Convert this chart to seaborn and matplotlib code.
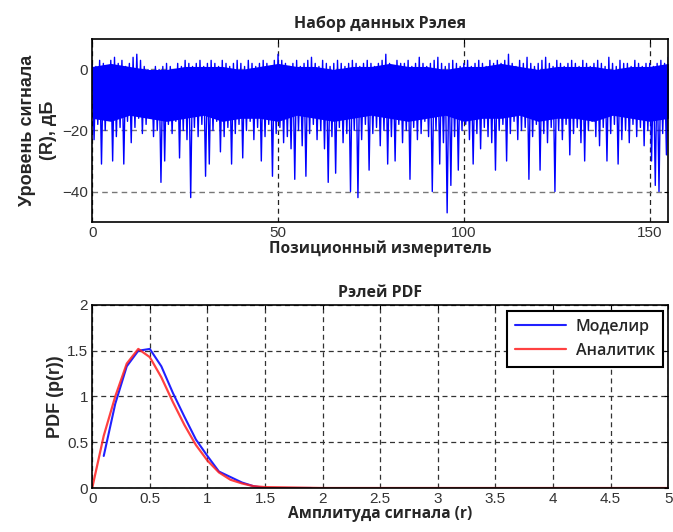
import numpy as np
import pandas as pd
import seaborn as sns
import matplotlib.pyplot as plt

# Rayleigh fading record: upper (peaks, at x = 0,1,...,155) and lower (troughs, at x = 0.5,...,154.5) values in dB
peaks = [2, 1, 3, 2, 1, 3, 4, 2, 3, 1,
         2, 4, 5, 3, 1, 0, -1, 1, 0, 1,
         2, 1, 0, 2, 1, 3, 2, 1, 2, 3,
         1, 2, 3, 2, 1, 3, 2, 1, 2, 3,
         2, 1, 3, 2, 1, 2, 3, 2, 1, 3,
         5, 3, 2, 1, 2, 3, 1, 2, 3, 4,
         2, 1, 3, 2, 1, 2, 3, 2, 1, 2,
         3, 2, 1, 2, 3, 2, 1, 2, 3, 5,
         2, 1, 3, 2, 2, 3, 1, 2, 4, 2,
         1, 2, 3, 4, 2, 1, 2, 3, 2, 1,
         2, 3, 1, 2, 3, 2, 1, 3, 2, 3,
         2, 3, 5, 2, 1, 3, 2, 4, 2, 1,
         2, 3, 4, 2, 1, 3, 2, 1, 2, 3,
         2, 1, 3, 2, 1, 2, 3, 2, 1, 4,
         2, 1, 3, 2, 2, 1, 3, 2, 1, 2,
         2, 1, 2, 3, 2, 4]
troughs = [-23, -18, -31, -20, -16, -30, -22, -19, -31, -17,
           -24, -19, -16, -21, -18, -15, -22, -20, -37, -30,
           -18, -21, -17, -29, -20, -23, -42, -19, -22, -18,
           -35, -31, -20, -17, -27, -22, -19, -31, -21, -18,
           -29, -20, -17, -23, -19, -30, -22, -18, -35, -21,
           -19, -24, -22, -26, -36, -20, -25, -35, -21, -18,
           -23, -20, -26, -37, -22, -34, -19, -24, -21, -40,
           -20, -42, -23, -18, -33, -21, -19, -25, -20, -31,
           -22, -30, -18, -24, -20, -36, -19, -23, -21, -17,
           -22, -40, -20, -31, -24, -47, -38, -22, -33, -20,
           -18, -23, -31, -21, -26, -19, -22, -24, -33, -20,
           -18, -30, -21, -17, -23, -20, -19, -36, -22, -18,
           -33, -21, -24, -19, -40, -20, -23, -18, -28, -21,
           -19, -24, -30, -20, -17, -22, -25, -19, -30, -21,
           -18, -31, -23, -20, -24, -18, -22, -19, -25, -20,
           -30, -38, -40, -21, -28]
# solid core of the record (every 5 units, x = 0,5,...,155), dB
core_top = [1, 2, 1, 0, 0, 1, 1, 1, 0, 1, 2, 1, 1, 0, 1, 1,
            2, 1, 1, 0, 1, 1, 2, 1, 0, 1, 1, 1, 0, 1, 1, 2]
core_bottom = [-16, -17, -15, -16, -17, -16, -15, -17, -16, -16, -17, -15, -16, -17, -16, -15,
               -16, -17, -16, -15, -17, -16, -16, -15, -17, -16, -16, -17, -15, -16, -17, -16]

# PDF curves
r_sim = [0.1, 0.2, 0.3, 0.4, 0.5, 0.6, 0.7, 0.8, 0.9, 1.0,
         1.1, 1.2, 1.3, 1.4, 1.5, 1.6, 1.7, 1.8, 1.9]
pdf_sim = [0.35, 0.92, 1.33, 1.50, 1.52, 1.33, 1.04, 0.78, 0.53, 0.35,
           0.18, 0.12, 0.06, 0.02, 0.0, 0.0, 0.0, 0.0, 0.0]
r_ana = [0.0, 0.1, 0.2, 0.3, 0.4, 0.5, 0.6, 0.7, 0.8, 0.9, 1.0,
         1.1, 1.2, 1.3, 1.4, 1.5, 2.0, 3.0, 4.0, 5.0]
pdf_ana = [0.0, 0.57, 1.0, 1.36, 1.52, 1.43, 1.21, 0.94, 0.69, 0.47, 0.30,
           0.17, 0.09, 0.05, 0.02, 0.01, 0.0, 0.0, 0.0, 0.0]

# interleave peaks and troughs into one record
pos, level = [], []
for i, p in enumerate(peaks):
    pos.append(i)
    level.append(p)
    if i < len(troughs):
        pos.append(i + 0.5)
        level.append(troughs[i])
ray = pd.DataFrame({'pos': pos, 'level': level})
core_pos = np.arange(len(core_top)) * 5

sns.set_theme(style='white')
plt.rcParams['font.family'] = ['Liberation Sans', 'DejaVu Sans']
plt.rcParams['path.simplify'] = False  # keep every zigzag of the record
head_font = ['Open Sans', 'DejaVu Sans']

fig = plt.figure(figsize=(6.73, 5.32), dpi=100)
ax1 = fig.add_axes([0.137, 0.5827, 0.856, 0.344])
ax2 = fig.add_axes([0.137, 0.0827, 0.856, 0.344])

# top: signal record
ax1.fill_between(core_pos, core_bottom, core_top, color='#0000ff', linewidth=0)
sns.lineplot(data=ray, x='pos', y='level', ax=ax1, color='#0000ff', linewidth=1.0,
             estimator=None, sort=False)
ax1.set_xlim(0, 155)
ax1.set_ylim(-50, 10)
ax1.set_xticks([0, 50, 100, 150])
ax1.set_yticks([-40, -20, 0])
ax1.xaxis.grid(True, linestyle=(0, (4, 3)), color='#222222', linewidth=0.9)
ax1.yaxis.grid(True, linestyle=(0, (4, 3)), color='#777777', linewidth=1.0)
ax1.set_axisbelow(True)
ax1.set_title('Набор данных Рэлея', fontsize=11.5, fontweight='bold',
              family=head_font, pad=8)
ax1.set_xlabel('Позиционный измеритель', fontsize=11.2, fontweight='bold',
               family=head_font, labelpad=0)
ax1.set_ylabel('Уровень сигнала\n(R), дБ', fontsize=13, fontweight='bold',
               labelpad=4, linespacing=1.25)

# bottom: PDF
sns.lineplot(x=r_sim, y=pdf_sim, ax=ax2, color='#2020ff', linewidth=1.5, label='Моделир')
sns.lineplot(x=r_ana, y=pdf_ana, ax=ax2, color='#ff2020', linewidth=1.6, alpha=0.85,
             label='Аналитик')
ax2.set_xlim(0, 5)
ax2.set_ylim(0, 2)
ax2.set_xticks(np.arange(0, 5.01, 0.5))
ax2.set_xticklabels(['0', '0.5', '1', '1.5', '2', '2.5', '3', '3.5', '4', '4.5', '5'])
ax2.set_yticks([0, 0.5, 1, 1.5, 2])
ax2.set_yticklabels(['0', '0.5', '1', '1.5', '2'])
ax2.grid(True, linestyle=(0, (4, 3)), color='#333333', linewidth=0.9)
ax2.set_title('Рэлей PDF', fontsize=11.5, fontweight='bold', family=head_font, pad=6)
ax2.set_xlabel('Амплитуда сигнала (r)', fontsize=11.2, fontweight='bold',
               family=head_font, labelpad=0)
ax2.set_ylabel('PDF (p(r))', fontsize=13, fontweight='bold', labelpad=2)
leg = ax2.legend(loc='upper right', fancybox=False, framealpha=1, edgecolor='black',
                 prop={'family': head_font, 'weight': 'semibold', 'size': 11.5},
                 borderaxespad=0.35, handlelength=3.2, borderpad=0.5, labelspacing=0.5,
                 handletextpad=0.6)
leg.get_frame().set_linewidth(1.5)

for ax in (ax1, ax2):
    for s in ax.spines.values():
        s.set_color('black')
        s.set_linewidth(1.2)
    ax.tick_params(direction='in', length=3, width=0.8, top=True, right=True,
                   labelsize=11, colors='black', pad=3)
    for t in ax.get_xticklabels() + ax.get_yticklabels():
        t.set_color('#333333')

fig.savefig('out.png', dpi=100)
